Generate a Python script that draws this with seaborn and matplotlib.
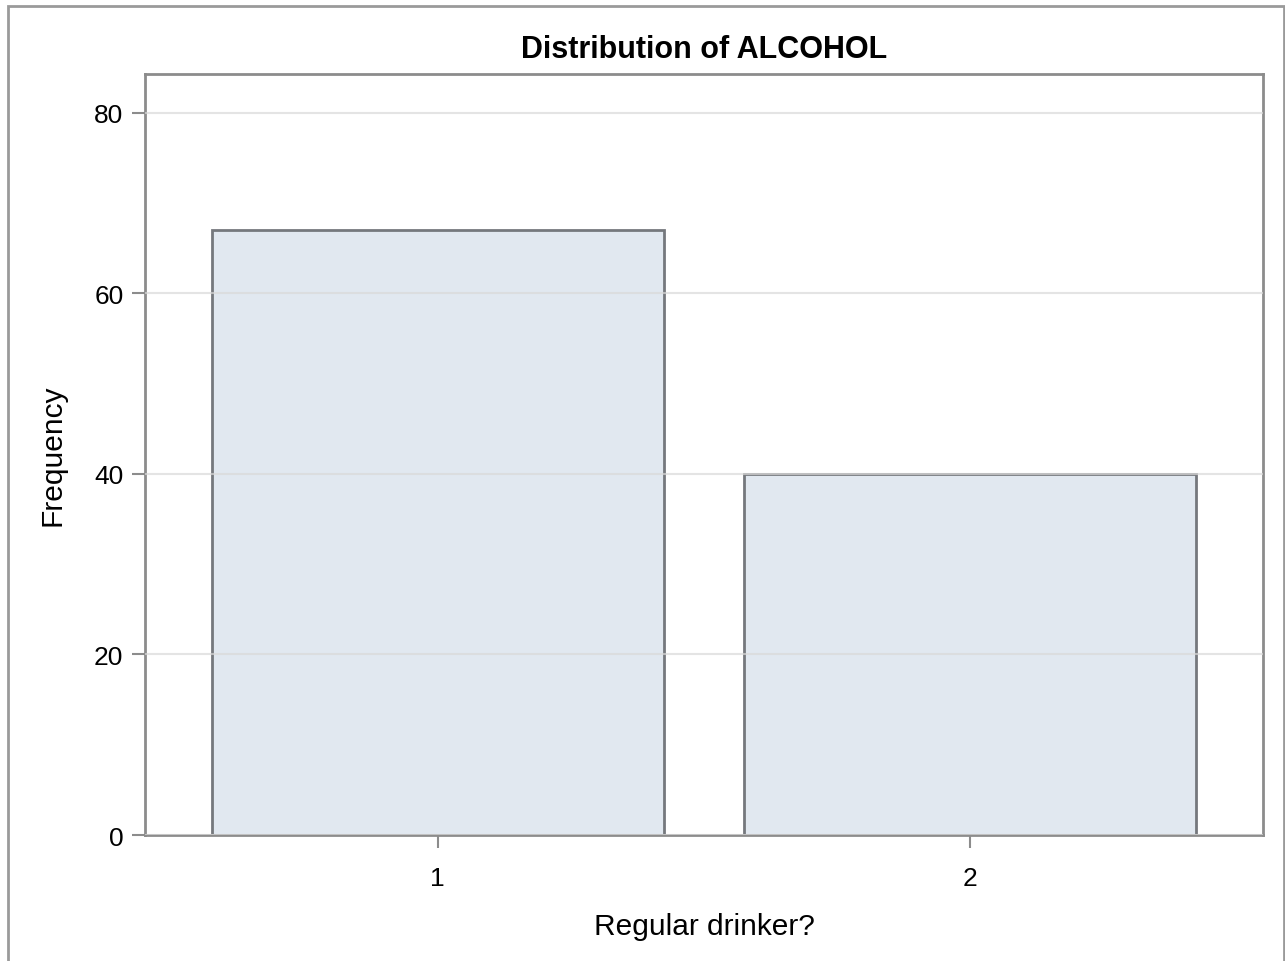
import matplotlib
matplotlib.use("Agg")
import matplotlib.pyplot as plt
import seaborn as sns
import pandas as pd
from matplotlib.patches import Rectangle

categories = ["1", "2"]
frequencies = [67, 40]
yticks = [0, 20, 40, 60, 80]

sns.set_theme(style="white")
plt.rcParams['font.family'] = ['Liberation Sans', 'DejaVu Sans']
plt.rcParams['text.color'] = 'black'
plt.rcParams['axes.labelcolor'] = 'black'
plt.rcParams['xtick.color'] = '#8C8C8C'
plt.rcParams['ytick.color'] = '#8C8C8C'
plt.rcParams['xtick.labelcolor'] = 'black'
plt.rcParams['ytick.labelcolor'] = 'black'

W, H = 1285, 962
fig = plt.figure(figsize=(W / 100, H / 100), dpi=100)
ax = fig.add_axes([145 / W, 1 - 836 / H, (1263 - 145) / W, (836 - 75) / H])

df = pd.DataFrame({"cat": categories, "freq": frequencies})
sns.barplot(data=df, x="cat", y="freq", ax=ax, color="#E1E8F0", saturation=1,
            width=0.85, edgecolor="#75787D", linewidth=2, zorder=2)

ax.set_xlim(-0.55, 1.55)
ax.set_ylim(0, 84.3)
ax.set_yticks(yticks)
ax.set_yticklabels([str(v) for v in yticks])
ax.yaxis.grid(True, color="#D9D9D9", linewidth=1.5, alpha=0.7, zorder=3)
ax.set_axisbelow(False)
for s in ax.spines.values():
    s.set_color("#8C8C8C")
    s.set_linewidth(2)
ax.tick_params(axis="y", which="major", direction="out", length=9.5, width=1.5,
               labelsize=19, pad=6, left=True)
ax.tick_params(axis="x", which="major", direction="out", length=9.5, width=1.5,
               labelsize=19, pad=13, bottom=True)
ax.set_xlabel("Regular drinker?", fontsize=21.5, labelpad=16)
ax.set_ylabel("Frequency", fontsize=21.5, labelpad=20)
ax.set_title("Distribution of ALCOHOL", fontsize=22, fontweight="bold", pad=12)

fig.patches.append(Rectangle((8 / W, -0.1), (1284 - 8) / W, 1.1 - 7 / H,
                             transform=fig.transFigure, fill=False,
                             edgecolor="#9A9A9A", linewidth=2, zorder=0))

fig.savefig("out.png", dpi=100)
